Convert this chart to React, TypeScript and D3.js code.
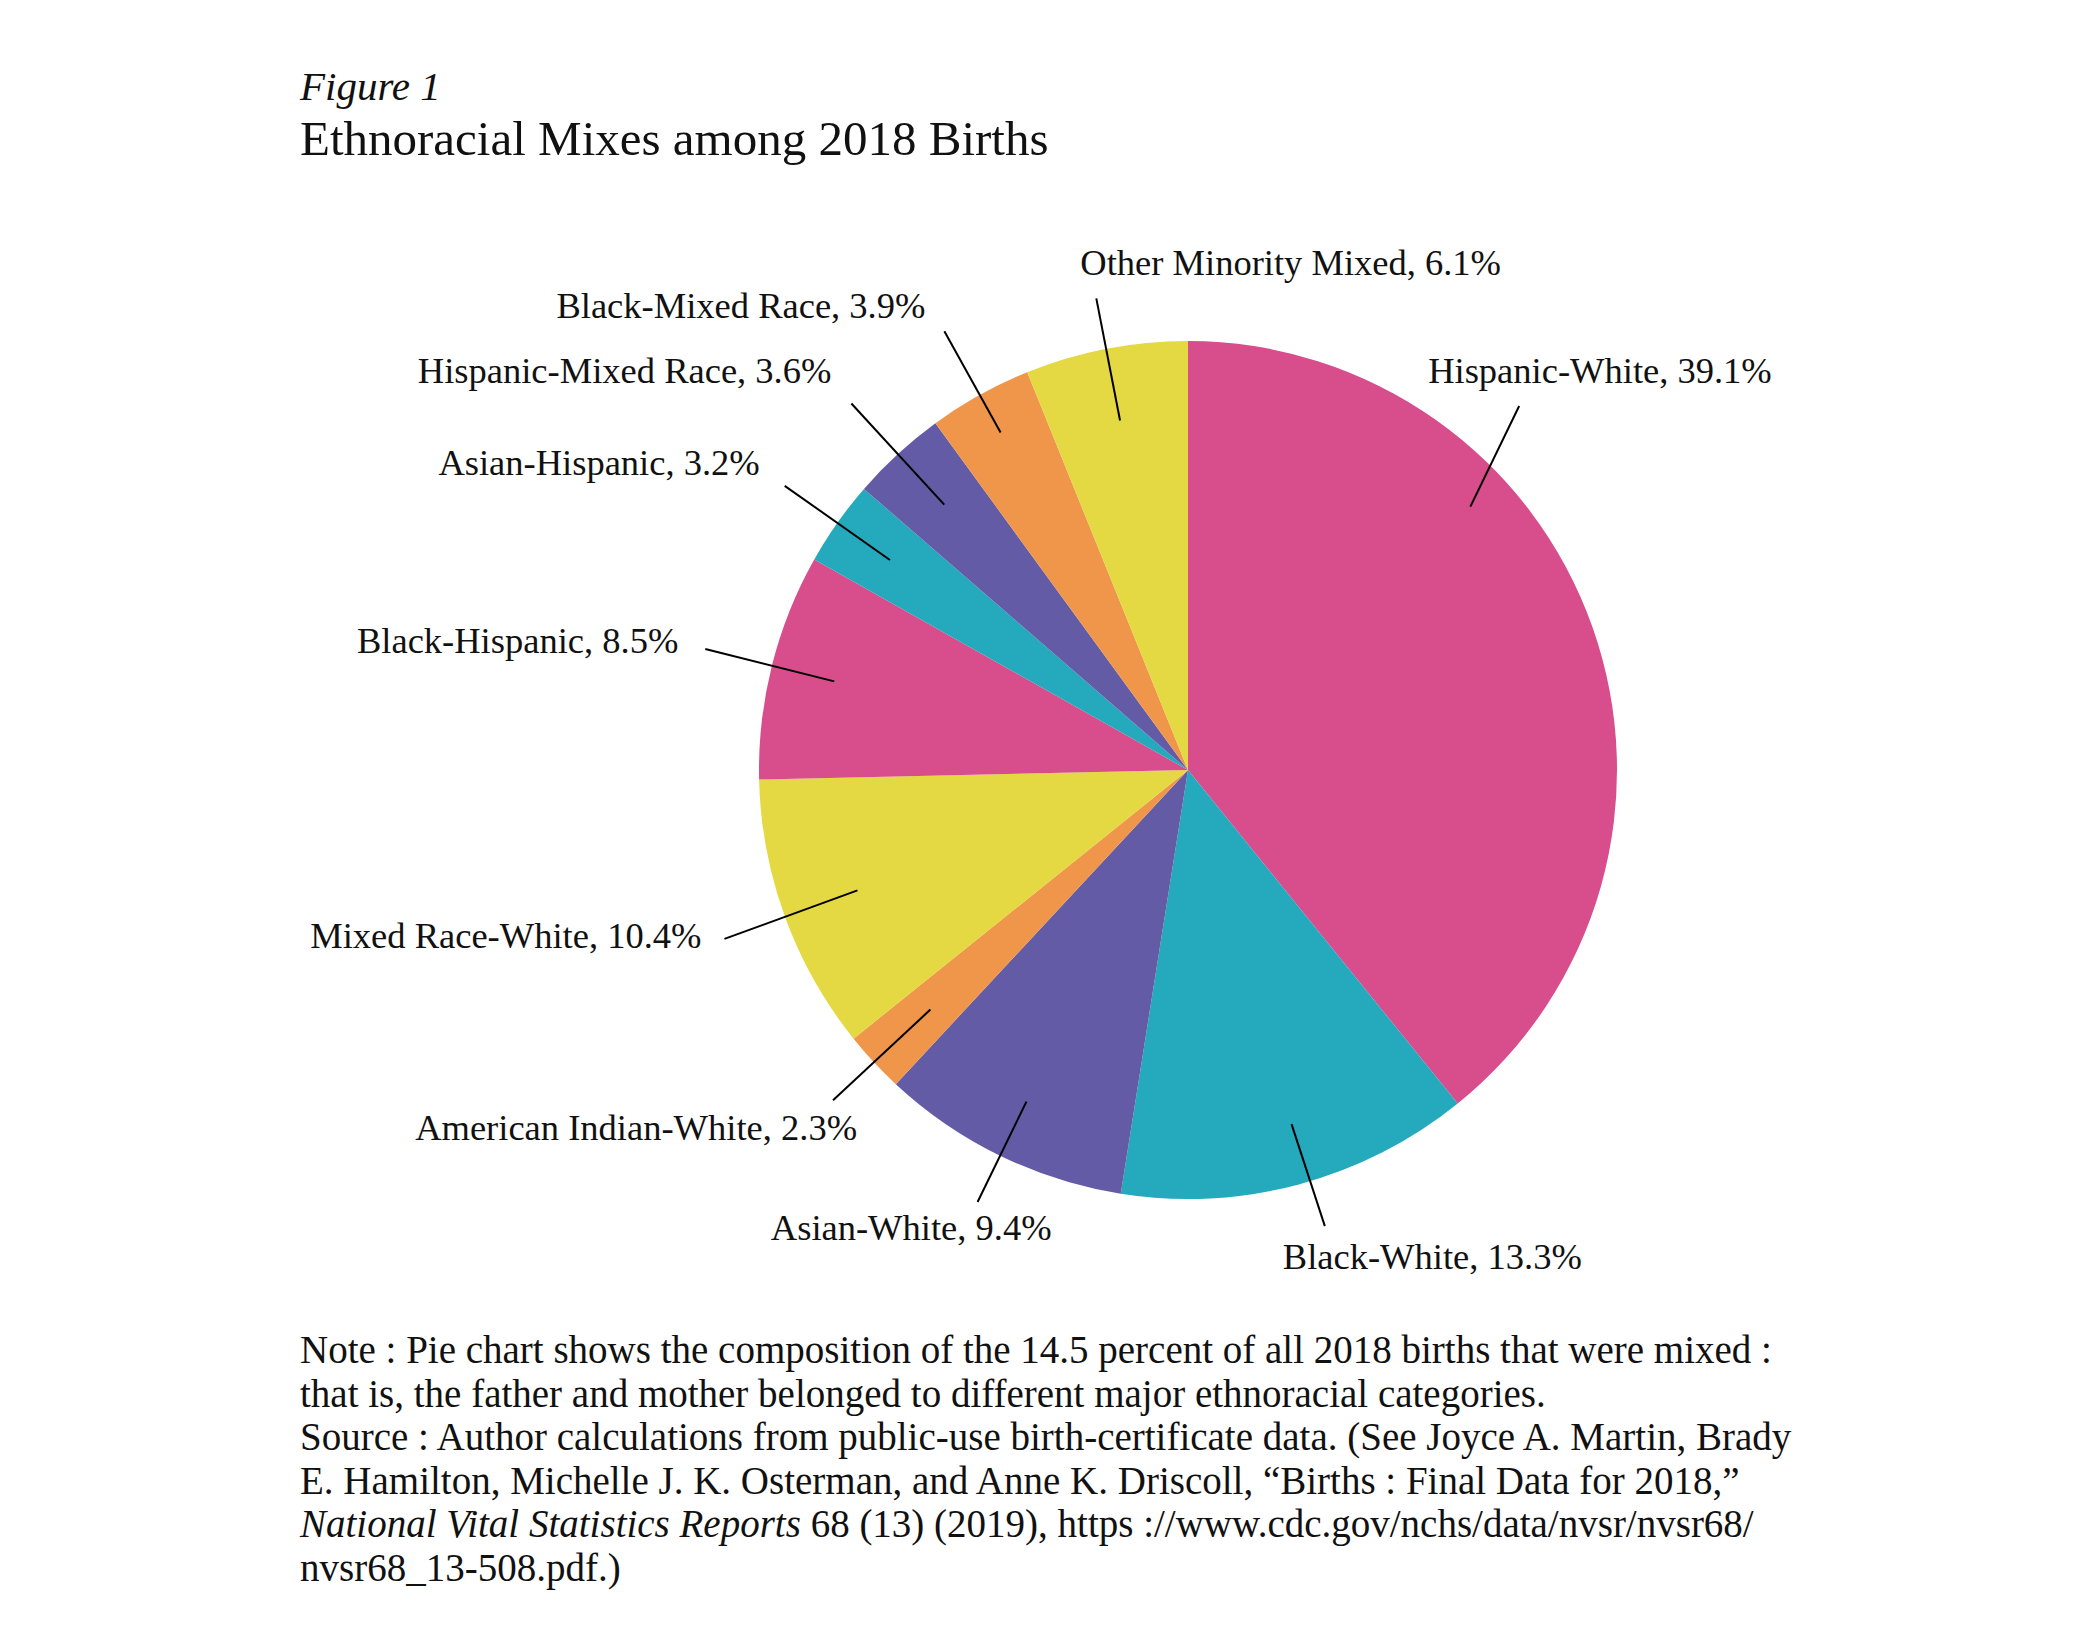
import React from "react";
import * as d3 from "d3";

const categories = [
  "Hispanic-White",
  "Black-White",
  "Asian-White",
  "American Indian-White",
  "Mixed Race-White",
  "Black-Hispanic",
  "Asian-Hispanic",
  "Hispanic-Mixed Race",
  "Black-Mixed Race",
  "Other Minority Mixed",
];
const shares = [39.1, 13.3, 9.4, 2.3, 10.4, 8.5, 3.2, 3.6, 3.9, 6.1];
const sliceColors = [
  "#D84D8B", "#24A9BD", "#635BA6", "#F0964A", "#E4D843",
  "#D84D8B", "#24A9BD", "#635BA6", "#F0964A", "#E4D843",
];

// leader-line / label layout (angles in degrees override slice centroid; r as fraction of radius)
const labelLayout = [
  { inAng: 47, outAng: 42.3, rIn: 0.9, rOut: 1.147, anchor: "start", dx: -91, dy: -23 },
  { inAng: 163.7, outAng: 163.3, rIn: 0.86, rOut: 1.11, anchor: "start", dx: -42, dy: 43 },
  { rIn: 0.86, rOut: 1.12, anchor: "end", dx: 74, dy: 38 },
  { rIn: 0.82, rOut: 1.13, anchor: "end", dx: 24, dy: 40 },
  { rIn: 0.82, rOut: 1.15, anchor: "end", dx: -23, dy: 9 },
  { rIn: 0.85, rOut: 1.16, anchor: "end", dx: -27, dy: 4 },
  { rIn: 0.85, rOut: 1.15, anchor: "end", dx: -25, dy: -11 },
  { rIn: 0.84, rOut: 1.16, anchor: "end", dx: -20, dy: -20 },
  { rIn: 0.9, rOut: 1.17, anchor: "end", dx: -19, dy: -13 },
  { rIn: 0.83, rOut: 1.12, anchor: "start", dx: -16, dy: -23 },
];

const noteLines = [
  "Note : Pie chart shows the composition of the 14.5 percent of all 2018 births that were mixed :",
  "that is, the father and mother belonged to different major ethnoracial categories.",
  "Source : Author calculations from public-use birth-certificate data. (See Joyce A. Martin, Brady",
  "E. Hamilton, Michelle J. K. Osterman, and Anne K. Driscoll, \u201cBirths : Final Data for 2018,\u201d",
  "|National Vital Statistics Reports| 68 (13) (2019), https ://www.cdc.gov/nchs/data/nvsr/nvsr68/",
  "nvsr68_13-508.pdf.)",
];

const W = 2100;
const H = 1639;
const cx = 1188;
const cy = 770;
const R = 429;
const FONT = "'Liberation Serif', 'DejaVu Serif', serif";

export default function App() {
  const data = categories.map((c, i) => ({ name: c, value: shares[i], color: sliceColors[i] }));
  const pie = d3.pie<any>().value((d) => d.value).sort(null);
  const arcs = pie(data);
  const arcGen = d3.arc<any>().innerRadius(0).outerRadius(R);
  const rad = (deg: number) => (deg * Math.PI) / 180;

  return (
    <svg
      width={W}
      height={H}
      viewBox={`0 0 ${W} ${H}`}
      style={{ position: "absolute", left: 0, top: 0, background: "#fff" }}
      fontFamily={FONT}
    >
      <rect x={0} y={0} width={W} height={H} fill="#fff" />
      <text x={300} y={100} fontSize={41} fontStyle="italic" fill="#111">Figure 1</text>
      <text x={300} y={155} fontSize={49} fill="#111">Ethnoracial Mixes among 2018 Births</text>

      <g transform={`translate(${cx},${cy})`}>
        {arcs.map((a, i) => (
          <path key={i} d={arcGen(a) as string} fill={a.data.color} />
        ))}
        {arcs.map((a, i) => {
          const L: any = labelLayout[i];
          const mid = (a.startAngle + a.endAngle) / 2;
          const aIn = L.inAng !== undefined ? rad(L.inAng) : mid;
          const aOut = L.outAng !== undefined ? rad(L.outAng) : mid;
          const [x1, y1] = d3.pointRadial(aIn, R * L.rIn);
          const [x2, y2] = d3.pointRadial(aOut, R * L.rOut);
          return (
            <g key={"l" + i}>
              <line x1={x1} y1={y1} x2={x2} y2={y2} stroke="#000" strokeWidth={2} />
              <text
                x={x2 + L.dx}
                y={y2 + L.dy}
                textAnchor={L.anchor}
                fontSize={36.5}
                fill="#111"
              >
                {`${a.data.name}, ${a.data.value.toFixed(1)}%`}
              </text>
            </g>
          );
        })}
      </g>

      <g>
        {noteLines.map((ln, i) => {
          const parts = ln.split("|");
          return (
            <text key={i} x={300} y={1363 + i * 43.6} fontSize={39} fill="#111">
              {parts.map((p, j) => (
                <tspan key={j} fontStyle={j % 2 === 1 ? "italic" : "normal"}>{p}</tspan>
              ))}
            </text>
          );
        })}
      </g>
    </svg>
  );
}
